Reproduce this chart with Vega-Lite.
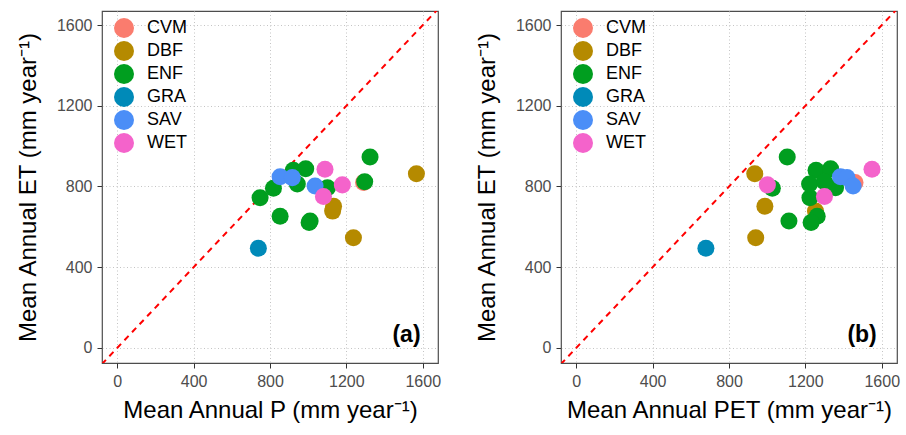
{
  "$schema": "https://vega.github.io/schema/vega-lite/v6.json",
  "background": "white",
  "padding": {"left": 15, "top": 10, "right": 4, "bottom": 4},
  "datasets": {
    "sites": [
      {"type": "CVM", "P": 1290, "PET": 1460, "ET": 820},
      {"type": "DBF", "P": 1567, "PET": 935, "ET": 863},
      {"type": "DBF", "P": 1237, "PET": 940, "ET": 546},
      {"type": "DBF", "P": 1133, "PET": 988, "ET": 702},
      {"type": "DBF", "P": 1128, "PET": 1253, "ET": 678},
      {"type": "ENF", "P": 748, "PET": 1224, "ET": 744},
      {"type": "ENF", "P": 818, "PET": 1027, "ET": 791},
      {"type": "ENF", "P": 922, "PET": 1256, "ET": 880},
      {"type": "ENF", "P": 987, "PET": 1332, "ET": 888},
      {"type": "ENF", "P": 943, "PET": 1222, "ET": 812},
      {"type": "ENF", "P": 853, "PET": 1262, "ET": 652},
      {"type": "ENF", "P": 1005, "PET": 1230, "ET": 621},
      {"type": "ENF", "P": 1010, "PET": 1114, "ET": 629},
      {"type": "ENF", "P": 1101, "PET": 1358, "ET": 794},
      {"type": "ENF", "P": 1324, "PET": 1105, "ET": 946},
      {"type": "ENF", "P": 1296, "PET": 1300, "ET": 824},
      {"type": "GRA", "P": 739, "PET": 679, "ET": 494},
      {"type": "SAV", "P": 853, "PET": 1384, "ET": 848},
      {"type": "SAV", "P": 917, "PET": 1418, "ET": 844},
      {"type": "SAV", "P": 1036, "PET": 1450, "ET": 802},
      {"type": "WET", "P": 1179, "PET": 1001, "ET": 808},
      {"type": "WET", "P": 1080, "PET": 1300, "ET": 750},
      {"type": "WET", "P": 1088, "PET": 1549, "ET": 885}
    ],
    "diag": [
      {"P": -200, "PET": -200, "ET": -200},
      {"P": 2000, "PET": 2000, "ET": 2000}
    ]
  },
  "config": {
    "font": "Liberation Sans",
    "view": {"stroke": "#4D4D4D", "strokeWidth": 1.2},
    "axis": {
      "grid": true,
      "gridColor": "#C4C4C4",
      "gridDash": [1, 2.5],
      "gridWidth": 1,
      "domain": false,
      "ticks": true,
      "tickColor": "#333333",
      "tickSize": 5,
      "tickWidth": 1,
      "format": "d",
      "labelFont": "Liberation Sans",
      "labelFontSize": 16,
      "labelColor": "#4D4D4D",
      "labelPadding": 5,
      "labelFlush": false,
      "labelOverlap": false,
      "titleFont": "Liberation Sans",
      "titleFontSize": 24,
      "titleFontWeight": "normal",
      "titleColor": "#000000"
    },
    "axisX": {"titlePadding": 9},
    "axisY": {"titlePadding": 16},
    "legend": {
      "orient": "none",
      "legendX": 12,
      "legendY": 7,
      "padding": 0,
      "labelFont": "Liberation Sans",
      "labelFontSize": 18,
      "labelColor": "#000000",
      "labelOffset": 13,
      "symbolSize": 400,
      "symbolType": "circle",
      "symbolOpacity": 1,
      "symbolStrokeWidth": 0,
      "rowPadding": 3
    }
  },
  "spacing": 32,
  "resolve": {"scale": {"color": "independent"}, "legend": {"color": "independent"}},
  "hconcat": [
    {
      "width": 336,
      "height": 352,
      "encoding": {
        "x": {"field": "P", "type": "quantitative", "title": "Mean Annual P (mm year⁻¹)",
              "scale": {"domain": [-80, 1680], "nice": false, "zero": false},
              "axis": {"values": [0, 400, 800, 1200, 1600]}},
        "y": {"field": "ET", "type": "quantitative", "title": "Mean Annual ET (mm year⁻¹)",
              "scale": {"domain": [-75, 1670], "nice": false, "zero": false},
              "axis": {"values": [0, 400, 800, 1200, 1600]}}
      },
      "layer": [
        {
          "data": {"name": "diag"},
          "mark": {"type": "line", "color": "#FF0000", "strokeDash": [6, 5], "strokeWidth": 2, "clip": true}
        },
        {
          "data": {"name": "sites"},
          "mark": {"type": "circle", "size": 290, "opacity": 1},
          "encoding": {
            "color": {"field": "type", "type": "nominal", "title": null,
                      "legend": {"symbolSize": 400, "symbolType": "circle", "symbolOpacity": 1},
                      "scale": {"domain": ["CVM", "DBF", "ENF", "GRA", "SAV", "WET"],
                                "range": ["#FA7C6E", "#B58A00", "#009E1F", "#008AB8", "#4B8EF7", "#F463CB"]}}
          }
        },
        {
          "data": {"values": [{"lab": "(a)", "P": 1515, "ET": 62}]},
          "mark": {"type": "text", "fontWeight": "bold", "fontSize": 23, "align": "center", "baseline": "middle", "color": "#000000"},
          "encoding": {"text": {"field": "lab"}}
        }
      ]
    },
    {
      "width": 336,
      "height": 352,
      "encoding": {
        "x": {"field": "PET", "type": "quantitative", "title": "Mean Annual PET (mm year⁻¹)",
              "scale": {"domain": [-80, 1680], "nice": false, "zero": false},
              "axis": {"values": [0, 400, 800, 1200, 1600]}},
        "y": {"field": "ET", "type": "quantitative", "title": "Mean Annual ET (mm year⁻¹)",
              "scale": {"domain": [-75, 1670], "nice": false, "zero": false},
              "axis": {"values": [0, 400, 800, 1200, 1600]}}
      },
      "layer": [
        {
          "data": {"name": "diag"},
          "mark": {"type": "line", "color": "#FF0000", "strokeDash": [6, 5], "strokeWidth": 2, "clip": true}
        },
        {
          "data": {"name": "sites"},
          "mark": {"type": "circle", "size": 290, "opacity": 1},
          "encoding": {
            "color": {"field": "type", "type": "nominal", "title": null,
                      "legend": {"symbolSize": 400, "symbolType": "circle", "symbolOpacity": 1},
                      "scale": {"domain": ["CVM", "DBF", "ENF", "GRA", "SAV", "WET"],
                                "range": ["#FA7C6E", "#B58A00", "#009E1F", "#008AB8", "#4B8EF7", "#F463CB"]}}
          }
        },
        {
          "data": {"values": [{"lab": "(b)", "PET": 1497, "ET": 62}]},
          "mark": {"type": "text", "fontWeight": "bold", "fontSize": 23, "align": "center", "baseline": "middle", "color": "#000000"},
          "encoding": {"text": {"field": "lab"}}
        }
      ]
    }
  ]
}
